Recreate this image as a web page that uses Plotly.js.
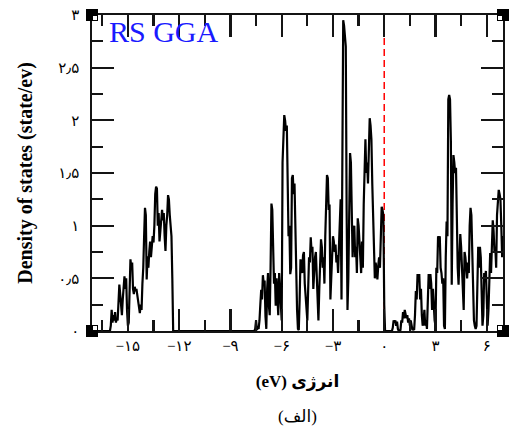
<!DOCTYPE html>
<html>
<head>
<meta charset="utf-8">
<script src="https://cdn.plot.ly/plotly-3.0.1.min.js"></script>
<style>html,body{margin:0;padding:0;background:#fff;}#chart{width:510px;height:429px;}</style>
</head>
<body>
<div id="chart"></div>
<script>
// Density of states: energy (eV) and DOS (state/eV)
const energyLow = [
  -16.10,-16.05,-16.00,-15.95,-15.90,-15.85,-15.80,-15.75,-15.70,-15.65,
  -15.60,-15.55,-15.50,-15.45,-15.40,-15.35,-15.30,-15.25,-15.20,-15.15,
  -15.10,-15.05,-15.00,-14.95,-14.90,-14.85,-14.80,-14.75,-14.70,-14.65,
  -14.60,-14.55,-14.50,-14.45,-14.40,-14.35,-14.30,-14.25,-14.20,-14.15,
  -14.10,-14.05,-14.00,-13.95,-13.90,-13.85,-13.80,-13.75,-13.70,-13.65,
  -13.60,-13.55,-13.50,-13.45,-13.40,-13.35,-13.30,-13.25,-13.20,-13.15,
  -13.10,-13.05,-13.00,-12.95,-12.90,-12.85,-12.80,-12.75,-12.70,-12.65,
  -12.60,-12.55,-12.50,-12.45,-12.40,-12.35,-12.30
];
const dosLow = [
  0,0,0.05,0.20,0.08,0.15,0.10,0.18,0.08,0.12,
  0.10,0.30,0.44,0.35,0.20,0.15,0.30,0.45,0.52,0.40,
  0.50,0.20,0.05,0.08,0.40,0.68,0.60,0.65,0.40,0.35,
  0.42,0.38,0.40,0.33,0.28,0.22,0.17,0.25,0.20,0.45,
  0.60,0.90,1.17,1.10,0.49,0.71,0.60,0.75,0.85,0.70,
  0.80,0.90,0.84,1.00,1.30,1.37,1.35,1.00,1.12,0.85,
  0.95,1.10,1.15,1.05,1.12,0.90,0.76,1.00,1.10,1.29,
  1.25,1.10,0.96,0.90,0.50,0,0
];
const energyValence = [
  -7.70,-7.65,-7.60,-7.55,-7.50,-7.45,-7.40,-7.35,-7.30,-7.25,
  -7.20,-7.15,-7.10,-7.05,-7.00,-6.95,-6.90,-6.85,-6.80,-6.75,
  -6.70,-6.65,-6.60,-6.55,-6.50,-6.45,-6.40,-6.35,-6.30,-6.25,
  -6.20,-6.15,-6.10,-6.05,-6.00,-5.95,-5.90,-5.85,-5.80,-5.75,
  -5.70,-5.65,-5.60,-5.55,-5.50,-5.45,-5.40,-5.35,-5.30,-5.25,
  -5.20,-5.15,-5.10,-5.05,-5.00,-4.95,-4.90,-4.85,-4.80,-4.75,
  -4.70,-4.65,-4.60,-4.55,-4.50,-4.45,-4.40,-4.35,-4.30,-4.25,
  -4.20,-4.15,-4.10,-4.05,-4.00,-3.95,-3.90,-3.85,-3.80,-3.75,
  -3.70,-3.65,-3.60,-3.55,-3.50,-3.45,-3.40,-3.35,-3.30,-3.25,
  -3.20,-3.15,-3.10,-3.05,-3.00,-2.95,-2.90,-2.85,-2.80,-2.75,
  -2.70,-2.65,-2.60,-2.55,-2.50,-2.45,-2.40,-2.35,-2.30,-2.25,
  -2.20,-2.15,-2.10,-2.05,-2.00,-1.95,-1.90,-1.85,-1.80,-1.75,
  -1.70,-1.65,-1.60,-1.55,-1.50,-1.45,-1.40,-1.35,-1.30,-1.25,
  -1.20,-1.15,-1.10,-1.05,-1.00,-0.95,-0.90,-0.85,-0.80,-0.75,
  -0.70,-0.65,-0.60,-0.55,-0.50,-0.45,-0.40,-0.35,-0.30,-0.25,
  -0.20,-0.15,-0.10,-0.05,0.00,0.05
];
const dosValence = [
  0,0,0,0.02,0.10,0.01,0.03,0.02,0.10,0.25,
  0.39,0.30,0.53,0.45,0.48,0.14,0.02,0.40,0.55,0.24,
  0.15,0.60,1.21,1.15,0.90,0.45,0.55,0.24,0.50,0.35,
  0.15,0.55,0.40,0.25,0.10,1.60,1.97,2.05,2.00,1.90,
  1.95,1.50,0.90,1.00,0.54,0.60,1.45,1.48,1.30,1.40,
  0.93,0.70,0.20,0.02,0.01,0.30,0.68,0.60,0.55,0.72,
  0.75,0.45,0.35,0.20,0.10,0.40,0.70,0.65,0.89,0.75,
  0.80,0.40,0.60,0.70,0.75,0.55,0.35,0.10,0.40,0.60,
  0.87,0.80,0.60,0.70,0.45,0.90,1.40,1.48,1.45,1.15,
  1.20,0.30,0.50,0.85,0.90,0.85,0.75,0.82,0.65,0.72,
  0.55,0.80,1.20,1.25,0.30,2.20,2.95,2.90,2.73,2.70,
  1.15,0.20,0.50,1.50,1.69,1.60,1.03,0.70,0.95,1.00,
  0.70,0.80,0.55,1.07,1.00,0.80,0.64,0.55,0.85,0.60,
  1.20,1.56,1.82,1.50,1.60,1.40,1.90,2.02,1.95,1.82,
  1.40,1.00,0.60,0.50,0.65,0.55,0.49,0.62,0.70,0.60,
  1.10,1.18,1.15,1.10,0.25,0
];
const energyConduction = [
  0.10,0.20,0.30,0.40,0.45,
  0.50,0.55,0.60,0.65,0.70,0.75,0.80,0.85,0.90,0.95,
  1.00,1.05,1.10,1.15,1.20,1.25,1.30,1.35,1.40,1.45,
  1.50,1.55,1.60,1.65,1.70,1.75,1.80,1.85,1.90,1.95,
  2.00,2.05,2.10,2.15,2.20,2.25,2.30,2.35,2.40,2.45,
  2.50,2.55,2.60,2.65,2.70,2.75,2.80,2.85,2.90,2.95,
  3.00,3.05,3.10,3.15,3.20,3.25,3.30,3.35,3.40,3.45,
  3.50,3.55,3.60,3.65,3.70,3.75,3.80,3.85,3.90,3.95,
  4.00,4.05,4.10,4.15,4.20,4.25,4.30,4.35,4.40,4.45,
  4.50,4.55,4.60,4.65,4.70,4.75,4.80,4.85,4.90,4.95,
  5.00,5.05,5.10,5.15,5.20,5.25,5.30,5.35,5.40,5.45,
  5.50,5.55,5.60,5.65,5.70,5.75,5.80,5.85,5.90,5.95,
  6.00,6.05,6.10,6.15,6.20,6.25,6.30,6.35,6.40,6.45,
  6.50,6.55,6.60,6.65,6.70,6.75,6.80,6.85,6.90,6.95,
  7.00
];
const dosConduction = [
  0,0,0,0,0,
  0.03,0.10,0.08,0.10,0.05,0.09,0.02,0,0,0.01,
  0.10,0.08,0.18,0.12,0.20,0.17,0.12,0.15,0.08,0.12,
  0.05,0.10,0.02,0.01,0.02,0.01,0.15,0.38,0.30,0.54,
  0.50,0.54,0.30,0.40,0.15,0.05,0.10,0.20,0.05,0.10,
  0.02,0.30,0.54,0.40,0.54,0.45,0.20,0.40,0.15,0.10,
  0.05,0.60,0.55,0.90,0.85,0.90,0.60,0.55,0.45,0.50,
  0.05,0.02,0.70,1.04,0.90,2.20,2.24,2.20,1.80,0.44,
  1.20,1.67,1.60,1.50,1.55,0.90,0.60,0.44,0.70,0.92,
  0.80,0.60,0.25,0.20,0.75,0.70,0.60,0.50,0.65,0.55,
  1.00,1.17,1.10,0.75,0.55,0.10,0.05,0.02,0.05,0.50,
  0.80,0.60,0.80,0.70,0.20,0.05,0.15,0.55,0.50,0.57,
  0.30,0.05,0.20,0.60,0.74,0.55,0.90,1.05,0.95,0.75,
  0.80,0.60,1.10,1.19,1.34,1.30,1.25,1.00,0.70,0.85,
  0.90
];
const fermiX = [0, 0];
const fermiY = [0, 3];
const xRange = [-17.1, 6.95];
const yRange = [0, 3];
const xTickVals = [-15, -12, -9, -6, -3, 0, 3, 6];
const xTickText = ['−۱۵', '−۱۲', '−۹', '−۶', '−۳', '۰', '۳', '۶'];
const yTickVals = [0, 0.5, 1, 1.5, 2, 2.5, 3];
const yTickText = ['۰', '۰٫۵', '۱', '۱٫۵', '۲', '۲٫۵', '۳'];

const energy = [xRange[0]].concat(energyLow, energyValence, energyConduction);
const dos = [0].concat(dosLow, dosValence, dosConduction);

const serif = 'Liberation Serif, "Times New Roman", DejaVu Sans, serif';
const ink = '#141414';
const pad = '\u00a0\u00a0';

const traces = [
  {x: fermiX, y: fermiY, mode: 'lines', line: {color: '#ff0000', width: 1.5, dash: '7px,4px'}, hoverinfo: 'skip'},
  {x: energy, y: dos, mode: 'lines', line: {color: '#000000', width: 2.2}}
];

function corner(xa, ya, dx, dy) {
  return [
    {type: 'rect', xref: 'paper', yref: 'paper', xsizemode: 'pixel', ysizemode: 'pixel',
     xanchor: xa, yanchor: ya, x0: -6, x1: 6, y0: -6, y1: 6,
     fillcolor: '#000', line: {width: 0}, layer: 'above'},
    {type: 'rect', xref: 'paper', yref: 'paper', xsizemode: 'pixel', ysizemode: 'pixel',
     xanchor: xa, yanchor: ya, x0: dx > 0 ? 1 : -5, x1: dx > 0 ? 5 : -1, y0: dy > 0 ? 1 : -5, y1: dy > 0 ? 5 : -1,
     fillcolor: '#fff', line: {width: 0}, layer: 'above'}
  ];
}

const axisStyle = {
  showgrid: false, zeroline: false, showline: true, linecolor: ink, linewidth: 2.2,
  mirror: 'allticks', ticks: 'inside', ticklen: 22, tickwidth: 2.2, tickcolor: ink, tickmode: 'array'
};

const layout = {
  width: 510, height: 429,
  margin: {l: 92, r: 7, t: 15, b: 98},
  paper_bgcolor: '#fff', plot_bgcolor: '#fff',
  showlegend: false,
  font: {family: serif, color: '#000', size: 15},
  xaxis: Object.assign({}, axisStyle, {
    range: xRange, tickvals: xTickVals, ticktext: xTickText,
    tickfont: {family: serif, size: 15},
    minor: {dtick: 1.5, tick0: 0, ticks: 'inside', ticklen: 11, tickwidth: 2.2, tickcolor: ink},
    title: {text: '<b>(eV) انرژی</b>', font: {family: serif, size: 17}, standoff: 22}
  }),
  yaxis: Object.assign({}, axisStyle, {
    range: yRange, tickvals: yTickVals, ticktext: yTickText.map(t => t + pad),
    tickfont: {family: serif, size: 15},
    minor: {dtick: 0.25, tick0: 0, ticks: 'inside', ticklen: 11, tickwidth: 2.2, tickcolor: ink},
    title: {text: '<b>Density of states (state/ev)</b>', font: {family: serif, size: 20}, standoff: 20}
  }),
  annotations: [
    {text: 'RS GGA', xref: 'paper', yref: 'paper', x: 0.036, y: 0.947, xanchor: 'left', yanchor: 'middle',
     showarrow: false, font: {family: serif, size: 30, color: '#1a1aff'}},
    {text: '(الف)', xref: 'paper', yref: 'paper', x: 0.5, y: -0.272, xanchor: 'center', yanchor: 'middle',
     showarrow: false, font: {family: serif, size: 17, color: '#000'}}
  ],
  shapes: [].concat(corner(0, 1, 1, -1), corner(1, 1, -1, -1), corner(0, 0, 1, 1), corner(1, 0, -1, 1))
};

Plotly.newPlot('chart', traces, layout, {staticPlot: true, displayModeBar: false});
</script>
</body>
</html>
